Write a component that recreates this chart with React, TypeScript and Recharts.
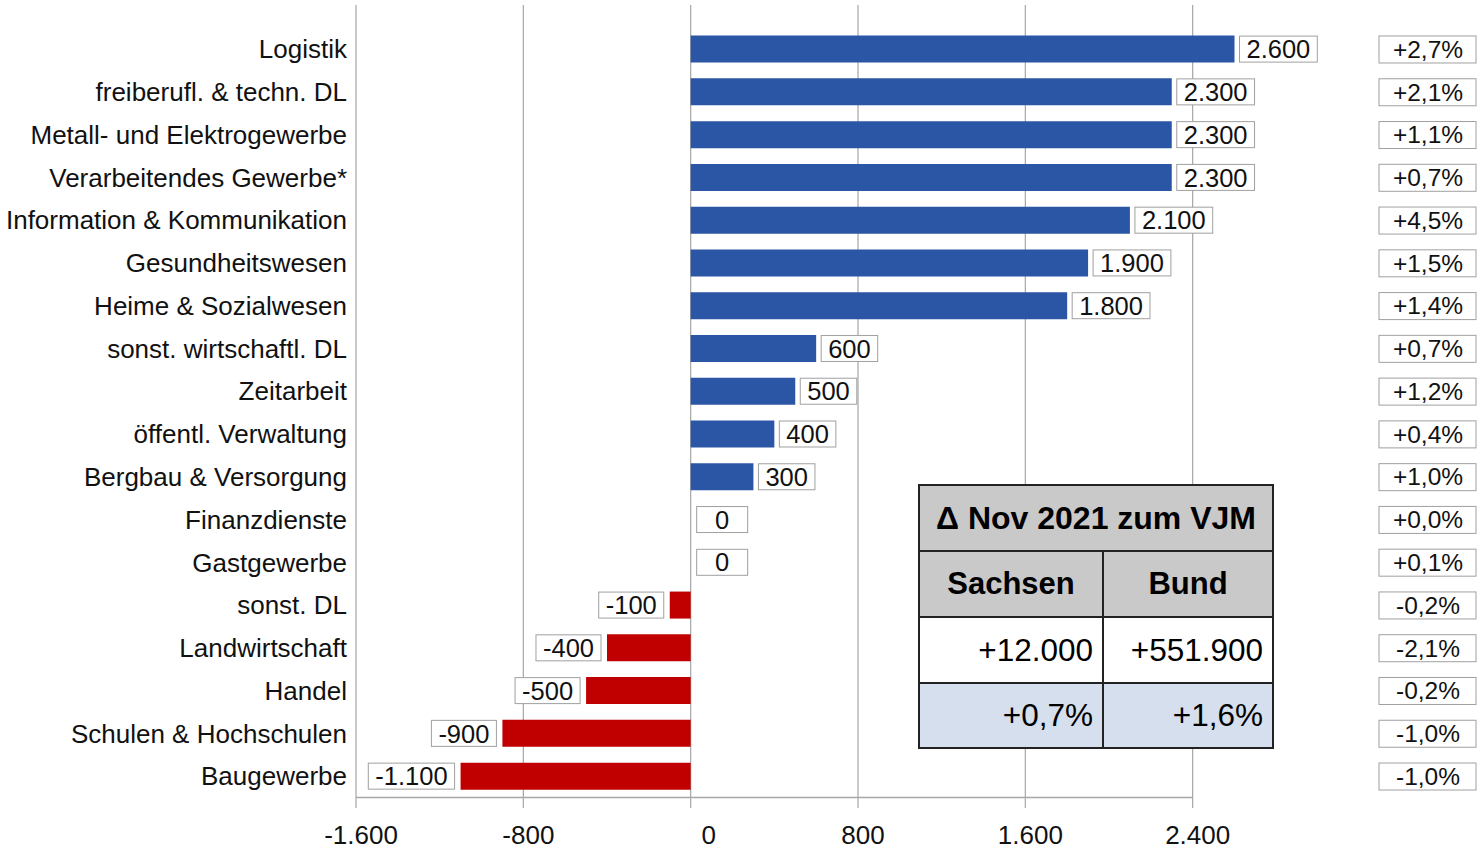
import React from "react";
import {
  BarChart,
  Bar,
  Cell,
  XAxis,
  YAxis,
  CartesianGrid,
  LabelList,
  ReferenceArea,
} from "recharts";

// Sectors, change vs. previous year (absolute) and change in percent
const categories = [
  "Logistik",
  "freiberufl. & techn. DL",
  "Metall- und Elektrogewerbe",
  "Verarbeitendes Gewerbe*",
  "Information & Kommunikation",
  "Gesundheitswesen",
  "Heime & Sozialwesen",
  "sonst. wirtschaftl. DL",
  "Zeitarbeit",
  "öffentl. Verwaltung",
  "Bergbau & Versorgung",
  "Finanzdienste",
  "Gastgewerbe",
  "sonst. DL",
  "Landwirtschaft",
  "Handel",
  "Schulen & Hochschulen",
  "Baugewerbe",
];
const changes = [
  2600, 2300, 2300, 2300, 2100, 1900, 1800, 600, 500, 400, 300, 0, 0, -100,
  -400, -500, -900, -1100,
];
const changePct = [
  "+2,7%", "+2,1%", "+1,1%", "+0,7%", "+4,5%", "+1,5%", "+1,4%", "+0,7%",
  "+1,2%", "+0,4%", "+1,0%", "+0,0%", "+0,1%", "-0,2%", "-2,1%", "-0,2%",
  "-1,0%", "-1,0%",
];
const xTicks = [-1600, -800, 0, 800, 1600, 2400];

// summary box
const tableTitle = "Δ Nov 2021 zum VJM";
const tableHeads = ["Sachsen", "Bund"];
const tableAbs = ["+12.000", "+551.900"];
const tablePct = ["+0,7%", "+1,6%"];

const data = categories.map((name, i) => ({ name, value: changes[i], pct: changePct[i] }));

const FONT = "'Liberation Sans', Arial, sans-serif";
const BLUE = "#2b56a6";
const RED = "#c00000";

// German number format: 1.600, -1.100
const fmt = (v: number) => {
  const s = String(Math.abs(v)).replace(/\B(?=(\d{3})+(?!\d))/g, ".");
  return (v < 0 ? "-" : "") + s;
};

// rough Arial widths, in em
const textWidth = (s: string, size: number) => {
  let w = 0;
  for (const ch of s) {
    if (ch === "." || ch === ",") w += 0.278;
    else if (ch === "-") w += 0.333;
    else if (ch === "+") w += 0.584;
    else if (ch === "%") w += 0.889;
    else w += 0.556;
  }
  return w * size;
};

const ValueLabel = (props: any) => {
  const { x, y, width, height, value } = props;
  const left = Math.min(x, x + width);
  const right = Math.max(x, x + width);
  const cy = y + height / 2;
  const txt = fmt(value);
  const w = Math.max(51, textWidth(txt, 25.5) + 14);
  const bx = value >= 0 ? right + 5 : left - 6 - w;
  return (
    <g>
      <rect x={bx} y={cy - 13} width={w} height={26} fill="#fff" stroke="#a0a0a0" strokeWidth={1} />
      <text
        x={bx + w / 2}
        y={cy}
        dy="0.36em"
        textAnchor="middle"
        fontSize={25.5}
        fontFamily={FONT}
        fill="#111"
      >
        {txt}
      </text>
    </g>
  );
};

const CategoryTick = (props: any) => {
  const { x, y, payload } = props;
  return (
    <text x={x} y={y} dy="0.36em" textAnchor="end" fontSize={26} fontFamily={FONT} fill="#111">
      {payload.value}
    </text>
  );
};

const PctTick = (props: any) => {
  const { x, y, payload } = props;
  const i = categories.indexOf(payload.value);
  return (
    <g>
      <rect x={x + 19} y={y - 13} width={97} height={27} fill="#fff" stroke="#a0a0a0" strokeWidth={1} />
      <text x={x + 68} y={y} dy="0.36em" textAnchor="middle" fontSize={24.5} fontFamily={FONT} fill="#111">
        {changePct[i]}
      </text>
    </g>
  );
};

const XTick = (props: any) => {
  const { x, y, payload } = props;
  return (
    <text
      x={x + (payload.value === 0 ? 18 : 5)}
      y={y}
      dy="0.71em"
      textAnchor="middle"
      fontSize={26}
      fontFamily={FONT}
      fill="#111"
    >
      {fmt(payload.value)}
    </text>
  );
};

const AxisLine = (props: any) => {
  const { x, y, width, height } = props;
  return <line x1={x} x2={x + width} y1={y + height} y2={y + height} stroke="#a6a6a6" strokeWidth={1.5} />;
};

const cell: React.CSSProperties = {
  boxSizing: "border-box",
  display: "flex",
  alignItems: "center",
  fontFamily: FONT,
  color: "#000",
  borderRight: "2px solid #222",
  borderBottom: "2px solid #222",
};

const SummaryTable = () => (
  <div
    style={{
      position: "absolute",
      left: 918,
      top: 484,
      width: 356,
      height: 265,
      boxSizing: "border-box",
      borderTop: "2px solid #222",
      borderLeft: "2px solid #222",
      display: "grid",
      gridTemplateColumns: "184px 170px",
      gridTemplateRows: "66px 66px 66px 65px",
    }}
  >
    <div style={{ ...cell, gridColumn: "1 / 3", background: "#c9c9c9", justifyContent: "center", fontWeight: "bold", fontSize: 32 }}>
      {tableTitle}
    </div>
    {tableHeads.map((h) => (
      <div key={h} style={{ ...cell, background: "#c9c9c9", justifyContent: "center", fontWeight: "bold", fontSize: 31 }}>
        {h}
      </div>
    ))}
    {tableAbs.map((v) => (
      <div key={v} style={{ ...cell, background: "#fff", justifyContent: "flex-end", paddingRight: 9, fontSize: 31.5 }}>
        {v}
      </div>
    ))}
    {tablePct.map((v) => (
      <div key={v} style={{ ...cell, background: "#d6dfed", justifyContent: "flex-end", paddingRight: 9, fontSize: 31.5 }}>
        {v}
      </div>
    ))}
  </div>
);

export default function App() {
  return (
    <div style={{ position: "absolute", left: 0, top: 0, width: 1477, height: 849, background: "#fff" }}>
      <BarChart
        width={1477}
        height={849}
        data={data}
        layout="vertical"
        margin={{ top: 5, right: 0, bottom: 0, left: 0 }}
        barSize={27}
      >
        <CartesianGrid horizontal={false} syncWithTicks stroke="#a6a6a6" strokeWidth={1.2} />
        <XAxis
          type="number"
          domain={[-1600, 3200]}
          ticks={xTicks}
          axisLine={false}
          tickLine={false}
          tickSize={0}
          tickMargin={18}
          height={41}
          tick={<XTick />}
        />
        <YAxis
          type="category"
          dataKey="name"
          width={356}
          axisLine={false}
          tickLine={false}
          tickSize={0}
          tickMargin={9}
          padding={{ top: 22.6, bottom: 10.6 }}
          interval={0}
          tick={<CategoryTick />}
        />
        <YAxis
          yAxisId="pct"
          orientation="right"
          type="category"
          dataKey="name"
          width={117}
          axisLine={false}
          tickLine={false}
          tickSize={0}
          tickMargin={0}
          padding={{ top: 22.6, bottom: 10.6 }}
          interval={0}
          tick={<PctTick />}
        />
        <ReferenceArea x1={-1600} x2={2400} shape={<AxisLine />} />
        <Bar dataKey="value" minPointSize={1} isAnimationActive={false}>
          {data.map((d, i) => (
            <Cell key={`cell-${i}`} fill={d.value === 0 ? "transparent" : d.value > 0 ? BLUE : RED} />
          ))}
          <LabelList dataKey="value" content={<ValueLabel />} />
        </Bar>
      </BarChart>
      <SummaryTable />
    </div>
  );
}
